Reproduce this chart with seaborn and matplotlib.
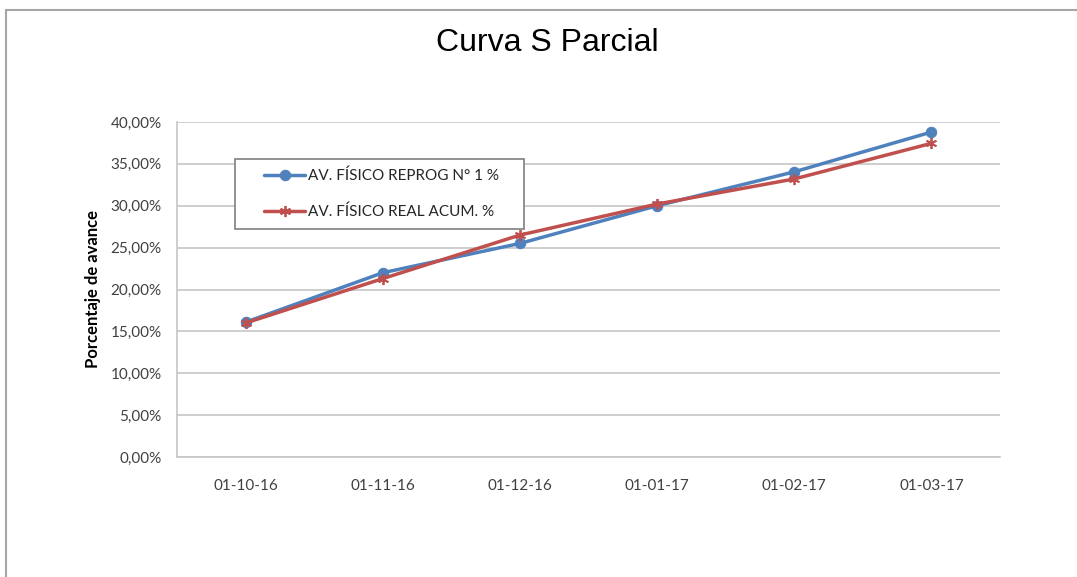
import pandas as pd
import matplotlib.pyplot as plt
import matplotlib.patches as mpatches
from matplotlib.ticker import FuncFormatter
import seaborn as sns

fechas = ['01-10-16', '01-11-16', '01-12-16', '01-01-17', '01-02-17', '01-03-17']
reprog = [16.1, 22.0, 25.5, 30.0, 34.05, 38.8]
real = [16.0, 21.3, 26.5, 30.2, 33.2, 37.45]
serie_reprog = 'AV. FÍSICO REPROG N° 1 %'
serie_real = 'AV. FÍSICO REAL ACUM. %'

df_reprog = pd.DataFrame({'Fecha': fechas, 'Avance': reprog})
df_real = pd.DataFrame({'Fecha': fechas, 'Avance': real})

sns.set_theme(style="white")
plt.rcParams['font.family'] = ['Lato', 'DejaVu Sans']

W, H = 1077, 577
fig = plt.figure(figsize=(W / 100, H / 100), dpi=100)
ax = fig.add_axes([177 / W, 1 - 457 / H, 823 / W, 335 / H])

# marco del gráfico
fig.patches.append(mpatches.Rectangle((6 / W, -0.05), 1.2, 1 - 10 / H + 0.05,
                                      transform=fig.transFigure, fill=False,
                                      edgecolor='#A6A6A6', linewidth=1.5))

sns.lineplot(data=df_reprog, x='Fecha', y='Avance', sort=False, color='#4F81BD',
             linewidth=2.5, marker='o', markersize=7.5, markeredgecolor='#4F81BD',
             label=serie_reprog, ax=ax)
sns.lineplot(data=df_real, x='Fecha', y='Avance', sort=False, color='#C0504D',
             linewidth=2.5, marker=(6, 2, 0), markersize=8, markeredgewidth=1.3,
             markeredgecolor='#C0504D', label=serie_real, ax=ax)

ax.set_ylim(0, 40)
ax.set_xlim(-0.5, len(fechas) - 0.5)
ax.set_yticks(range(0, 41, 5))
ax.yaxis.set_major_formatter(FuncFormatter(lambda v, p: f"{v:.2f}%".replace('.', ',')))
ax.grid(axis='y', color='#C6C6C6', linewidth=1.2)
ax.set_axisbelow(True)
for s in ['top', 'right']:
    ax.spines[s].set_visible(False)
for s in ['left', 'bottom']:
    ax.spines[s].set_color('#C6C6C6')
    ax.spines[s].set_linewidth(1.2)
ax.tick_params(axis='both', length=0, labelsize=11, colors='#404040')
ax.tick_params(axis='x', pad=16)
ax.tick_params(axis='y', pad=11)

ax.set_xlabel('')
ax.set_ylabel('Porcentaje de avance', fontsize=12, fontweight='bold', color='black', labelpad=7)

fig.text(547 / W, 1 - 43 / H, 'Curva S Parcial', ha='center', va='center',
         fontsize=23, family=['Liberation Sans', 'DejaVu Sans'], color='black')

# leyenda con marco propio
leg = ax.legend(loc='upper left', bbox_to_anchor=(264 / W, 1 - 169 / H),
                bbox_transform=fig.transFigure, fontsize=11, frameon=False,
                borderpad=0, borderaxespad=0, labelspacing=1.38,
                handlelength=2.7, handletextpad=0.2)
for t in leg.get_texts():
    t.set_color('#262626')
marco = mpatches.Rectangle((235 / W, 1 - 229 / H), 289 / W, 70 / H,
                           transform=fig.transFigure, facecolor='white',
                           edgecolor='#7F7F7F', linewidth=1.2, zorder=4, clip_on=False)
ax.add_artist(marco)
leg.set_zorder(5)

fig.savefig('out.png', dpi=100)
